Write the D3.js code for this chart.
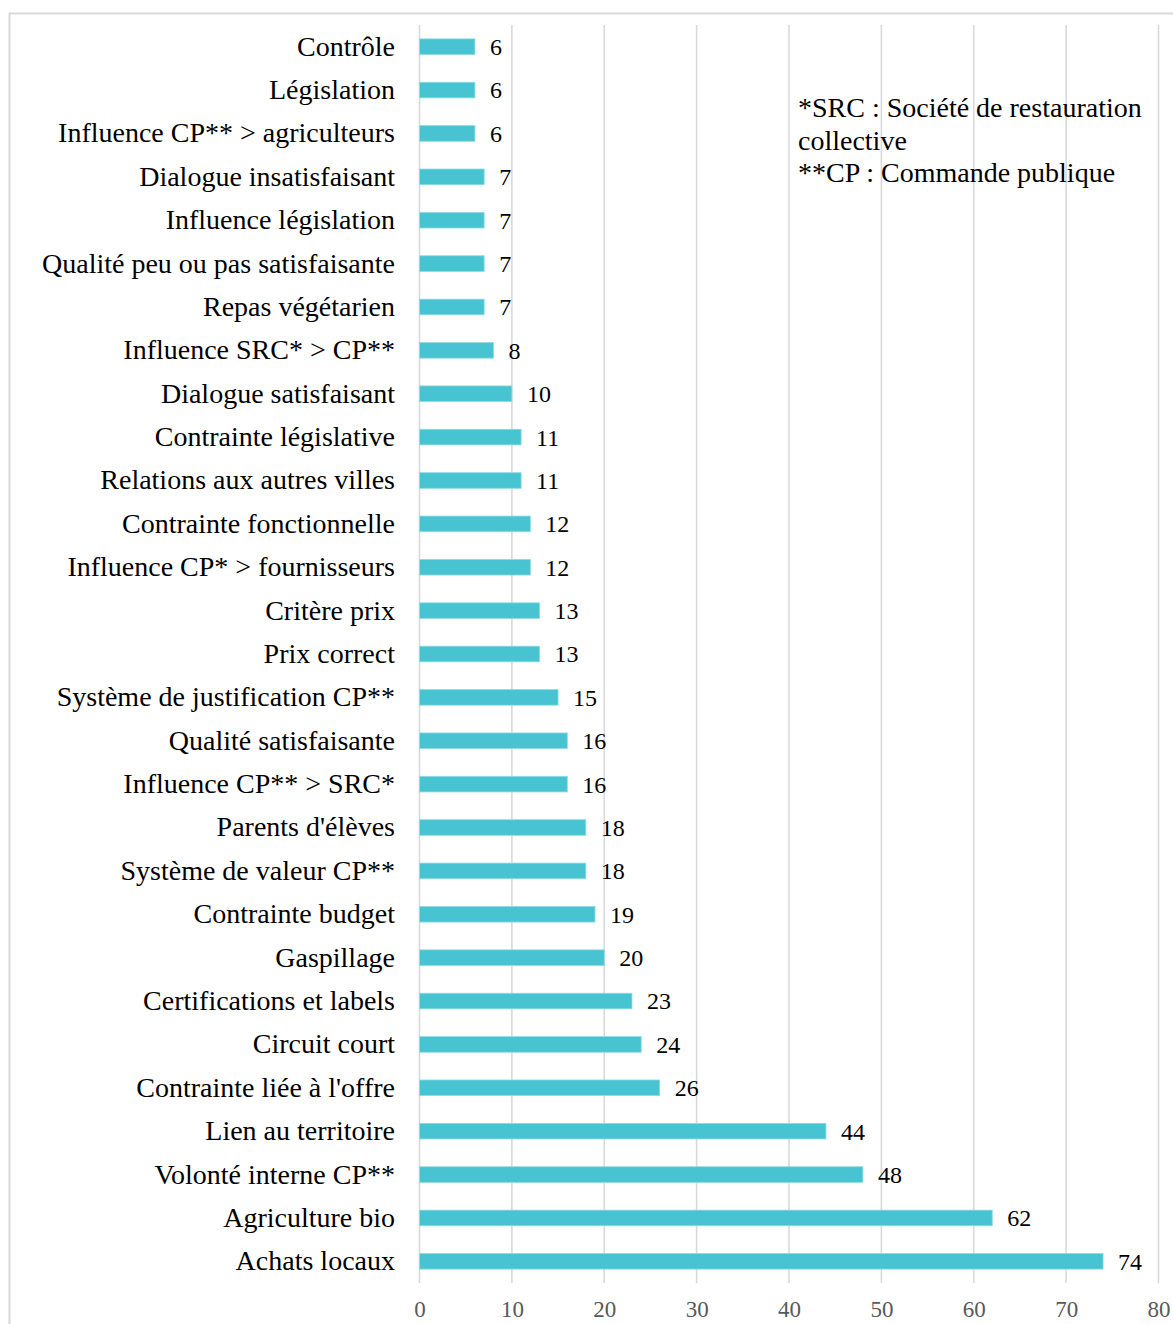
<!DOCTYPE html>
<html><head><meta charset="utf-8">
<script src="https://cdn.jsdelivr.net/npm/d3@7"></script>
<style>body{margin:0;background:#fff}svg{display:block}</style>
</head><body>
<script>
const categories = ["Contrôle","Législation","Influence CP** > agriculteurs","Dialogue insatisfaisant","Influence législation","Qualité peu ou pas satisfaisante","Repas végétarien","Influence SRC* > CP**","Dialogue satisfaisant","Contrainte législative","Relations aux autres villes","Contrainte fonctionnelle","Influence CP* > fournisseurs","Critère prix","Prix correct","Système de justification CP**","Qualité satisfaisante","Influence CP** > SRC*","Parents d'élèves","Système de valeur CP**","Contrainte budget","Gaspillage","Certifications et labels","Circuit court","Contrainte liée à l'offre","Lien au territoire","Volonté interne CP**","Agriculture bio","Achats locaux"];
const values = [6,6,6,7,7,7,7,8,10,11,11,12,12,13,13,15,16,16,18,18,19,20,23,24,26,44,48,62,74];
const xTicks = [0,10,20,30,40,50,60,70,80];
const noteLines = ["*SRC : Société de restauration","collective","**CP : Commande publique"];

const W = 1173, H = 1324;
const font = "'Liberation Serif','Times New Roman',serif";
const svg = d3.select("body").append("svg").attr("width", W).attr("height", H);

svg.append("rect").attr("x", 9.5).attr("y", 13.5).attr("width", 1200).attr("height", 1400)
  .attr("fill", "none").attr("stroke", "#d9d9d9").attr("stroke-width", 2);

const x = d3.scaleLinear().domain([0, 80]).range([419.5, 1158.5]);
const y = d3.scaleBand().domain(categories).range([25, 1283]).paddingInner(0.64).paddingOuter(0.32);

const grid = svg.append("g");
grid.selectAll("line").data(xTicks).join("line")
  .attr("x1", d => x(d)).attr("x2", d => x(d)).attr("y1", 25).attr("y2", 1283)
  .attr("stroke", "#d9d9d9").attr("stroke-width", 1.6);

const xAxis = svg.append("g").attr("transform", "translate(0,1283)")
  .call(d3.axisBottom(x).tickValues(xTicks).tickSize(0).tickPadding(18));
xAxis.select(".domain").remove();
xAxis.selectAll("text").style("font-family", font).style("font-size", "23px").attr("fill", "#595959");

svg.append("g").selectAll("rect").data(categories).join("rect")
  .attr("x", x(0)).attr("y", d => y(d)).attr("height", y.bandwidth())
  .attr("width", (d, i) => x(values[i]) - x(0))
  .attr("fill", "#48c3d1").attr("stroke", "#8fdbe3").attr("stroke-width", 0.8);

const yAxis = svg.append("g").attr("transform", "translate(395,0)")
  .call(d3.axisLeft(y).tickSize(0).tickPadding(0));
yAxis.select(".domain").remove();
yAxis.selectAll("text").style("font-family", font).style("font-size", "28px").attr("fill", "#000");

svg.append("g").selectAll("text").data(categories).join("text")
  .attr("x", (d, i) => x(values[i]) + 15).attr("y", d => y(d) + y.bandwidth() / 2)
  .attr("dy", "0.35em").style("font-family", font).style("font-size", "24px").attr("fill", "#000")
  .text((d, i) => values[i]);

svg.append("g").selectAll("text").data(noteLines).join("text")
  .attr("x", 798).attr("y", (d, i) => 117 + i * 32.5)
  .style("font-family", font).style("font-size", "28px").attr("fill", "#000")
  .text(d => d);
</script>
</body></html>
